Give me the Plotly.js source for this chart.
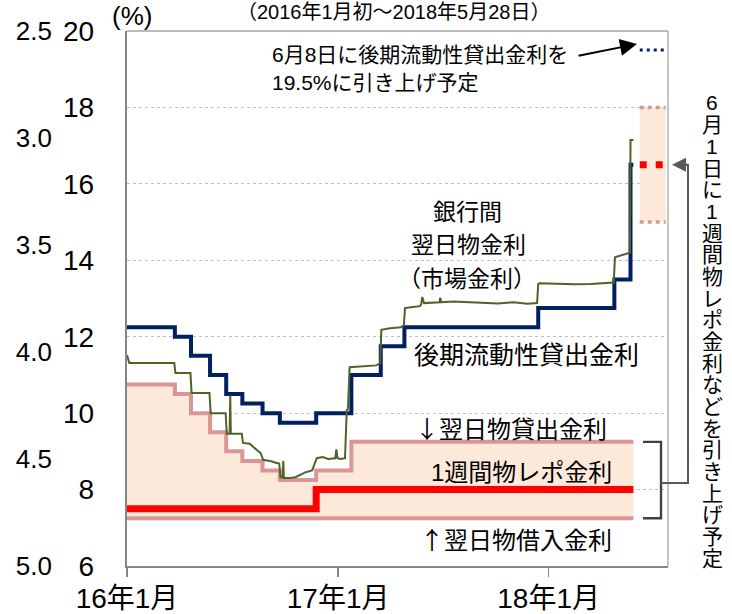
<!DOCTYPE html>
<html><head><meta charset="utf-8">
<script src="https://cdn.plot.ly/plotly-3.0.1.min.js"></script>
<style>html,body{margin:0;padding:0;background:#fff;}#chart{width:732px;height:614px;}</style>
</head><body><div id="chart"></div>
<script>
// ---- data ----
const corridorDates = ['2016-01-01','2016-03-24','2016-04-21','2016-05-24','2016-06-21','2016-07-19','2016-08-23','2016-09-22','2016-11-24','2017-01-24','2018-05-28'];
const lendingRate   = [10.75,10.5,10.0,9.5,9.0,8.75,8.5,8.25,8.5,9.25,9.25];
const borrowDates = ['2016-01-01','2018-05-28'];
const borrowRate  = [7.25,7.25];
const repoDates = ['2016-01-01','2016-11-24','2018-05-28'];
const repoRate  = [7.5,8.0,8.0];
const llwDates = ['2016-01-01','2016-03-24','2016-04-21','2016-05-24','2016-06-21','2016-07-19','2016-08-23','2016-09-22','2016-11-24','2017-01-24','2017-03-16','2017-04-26','2017-12-14','2018-04-25','2018-05-23','2018-05-28'];
const llwRate  = [12.25,12.0,11.5,11.0,10.5,10.25,10.0,9.75,10.0,11.0,11.75,12.25,12.75,13.5,16.5,16.5];
const mktDates = ['2016-01-01','2016-01-05','2016-03-23','2016-03-25','2016-04-20','2016-04-22','2016-05-23','2016-05-25','2016-06-20','2016-06-22','2016-06-27','2016-06-28','2016-06-29','2016-07-18','2016-07-20','2016-08-01','2016-08-08','2016-08-15','2016-08-20','2016-08-24','2016-09-05','2016-09-15','2016-09-21','2016-09-23','2016-09-27','2016-09-28','2016-09-29','2016-10-10','2016-10-20','2016-11-05','2016-11-17','2016-11-25','2016-12-05','2016-12-15','2016-12-27','2016-12-29','2016-12-31','2017-01-05','2017-01-13','2017-01-16','2017-01-18','2017-01-21','2017-02-10','2017-03-08','2017-03-15','2017-03-17','2017-04-01','2017-04-20','2017-04-25','2017-04-27','2017-05-10','2017-05-23','2017-05-25','2017-05-27','2017-05-30','2017-06-15','2017-06-26','2017-06-27','2017-06-29','2017-07-20','2017-08-15','2017-09-10','2017-10-05','2017-11-01','2017-11-25','2017-12-12','2017-12-14','2017-12-16','2018-01-15','2018-02-15','2018-03-15','2018-04-10','2018-04-24','2018-04-26','2018-05-05','2018-05-22','2018-05-23','2018-05-28'];
const mktRate  = [11.52,11.31,11.31,11.05,11.05,10.53,10.53,10.0,10.0,9.46,9.46,10.47,9.46,9.46,9.22,9.2,9.1,9.0,8.95,8.78,8.75,8.7,8.68,8.32,8.32,8.75,8.3,8.3,8.33,8.45,8.5,8.82,8.85,8.8,8.82,9.05,8.82,8.8,8.82,10.08,10.1,11.2,11.22,11.25,11.3,12.18,12.22,12.25,12.3,12.75,12.78,12.8,12.85,13.04,12.88,12.9,12.9,13.02,12.9,12.92,12.9,12.88,12.87,12.9,12.86,12.88,13.38,13.4,13.38,13.37,13.38,13.4,13.42,14.08,14.12,14.2,17.15,17.15];
const planDates   = ['2018-06-08','2018-07-23'];
const planLlw     = [19.5,19.5];
const planRepo    = [16.5,16.5];
const planLending = [18,18];
const planBorrow  = [15,15];
const xTickVals = ['2016-01-01','2017-01-01','2018-01-01'];
const xTickText = ['16年1月','17年1月','18年1月'];
const yTickVals  = [6,8,10,12,14,16,18,20];
const y2TickVals = [2.5,3.0,3.5,4.0,4.5,5.0];

// ---- styling / layout helpers ----
const FONT = '"Liberation Sans", Arial, "Noto Sans CJK JP", sans-serif';
const CJK = '"Noto Sans CJK JP", "Liberation Sans", sans-serif';
const PINK = '#d99694', PEACH = '#fde9d9', NAVY = '#002060', GREEN = '#4f6228', RED = '#ff0000';
const L = 127, R = 668, T = 31, B = 566, YMIN = 6, YMAX = 20;
const px = x => (x - L) / (R - L);
const py = y => (B - y) / (B - T);
const yv = v => (v - YMIN) / (YMAX - YMIN);

const traces = [
  {x: borrowDates, y: borrowRate, mode: 'lines', line: {color: PINK, width: 4, shape: 'hv'}},
  {x: corridorDates, y: lendingRate, mode: 'lines', fill: 'tonexty', fillcolor: PEACH, line: {color: PINK, width: 4, shape: 'hv'}},
  {x: planDates, y: planBorrow, mode: 'lines', line: {color: PINK, width: 3.5, dash: '4px,4px'}},
  {x: planDates, y: planLending, mode: 'lines', fill: 'tonexty', fillcolor: PEACH, line: {color: PINK, width: 3.5, dash: '4px,4px'}},
  {x: repoDates, y: repoRate, mode: 'lines', line: {color: RED, width: 7, shape: 'hv'}},
  {x: planDates, y: planRepo, mode: 'lines', line: {color: RED, width: 7, dash: '7px,9px'}},
  {x: llwDates, y: llwRate, mode: 'lines', line: {color: NAVY, width: 4, shape: 'hv'}},
  {x: planDates, y: planLlw, mode: 'lines', line: {color: NAVY, width: 3, dash: '3px,4px'}},
  {x: mktDates, y: mktRate, mode: 'lines', line: {color: GREEN, width: 2}},
  {x: [], y: [], yaxis: 'y2', mode: 'lines', hoverinfo: 'skip'}
].map(t => Object.assign({showlegend: false, hoverinfo: 'skip'}, t));

const ann = (text, x, y, size, extra, fam) => Object.assign({
  text, x: px(x), y: py(y), xref: 'paper', yref: 'paper', showarrow: false,
  xanchor: 'center', yanchor: 'middle', font: {family: fam || FONT, size, color: '#000'}
}, extra || {});

const annotations = [
  ann('（2016年1月初〜2018年5月28日）', 393, 12, 20),
  ann('(%)', 132, 16, 26),
  ann('6月8日に後期流動性貸出金利を', 270, 55, 21, {xanchor: 'left'}),
  ann('19.5%に引き上げ予定', 270, 82, 21, {xanchor: 'left'}),
  ann('銀行間', 467, 212, 23),
  ann('翌日物金利', 468, 245, 23),
  ann('（市場金利）', 467, 279, 23),
  ann('後期流動性貸出金利', 412, 355, 25, {xanchor: 'left'}),
  ann('↓翌日物貸出金利', 609, 427, 24, {xanchor: 'right'}, CJK),
  ann('1週間物レポ金利', 614, 472, 24, {xanchor: 'right'}),
  ann('↑翌日物借入金利', 614, 538, 24, {xanchor: 'right'}, CJK),
  {text: '', x: px(637), y: py(44), xref: 'paper', yref: 'paper', showarrow: true,
   ax: -60, ay: 12, arrowhead: 2, arrowsize: 1.7, arrowwidth: 2, arrowcolor: '#000', standoff: 0},
  {text: '', x: px(672), y: yv(16.5), xref: 'paper', yref: 'paper', showarrow: true,
   ax: 17, ay: 0, arrowhead: 2, arrowsize: 1.4, arrowwidth: 2, arrowcolor: '#595959', standoff: 0}
];
const noteVertical = '6月1日に1週間物レポ金利などを引き上げ予定';
Array.from(noteVertical).forEach((ch, i) => annotations.push(ann(ch, 712, 103 + i * 21.67, 21)));

const shapes = [
  {type: 'line', xref: 'paper', yref: 'paper', x0: 0, x1: 1, y0: 1, y1: 1, line: {color: '#a6a6a6', width: 1.3}},
  {type: 'line', xref: 'paper', yref: 'paper', x0: 1, x1: 1, y0: 0, y1: 1, line: {color: '#a6a6a6', width: 1.3}},
  {type: 'path', xref: 'paper', yref: 'paper', line: {color: '#404040', width: 2.3},
   path: `M ${px(643)},${yv(9.25)} H ${px(661)} V ${yv(7.25)} H ${px(643)}`},
  {type: 'path', xref: 'paper', yref: 'paper', line: {color: '#595959', width: 2},
   path: `M ${px(661)},${py(483)} H ${px(688)} V ${yv(16.5)} H ${px(676)}`}
];

const layout = {
  width: 732, height: 614,
  margin: {l: L, r: 732 - R, t: T, b: 614 - B, pad: 0},
  paper_bgcolor: '#fff', plot_bgcolor: '#fff',
  showlegend: false,
  font: {family: FONT, color: '#000'},
  xaxis: {type: 'date', range: ['2016-01-01', '2018-07-27'], tickvals: xTickVals, ticktext: xTickText,
    ticks: 'outside', ticklen: 9, tickwidth: 1.5, tickcolor: '#868686', ticklabelstandoff: -2,
    showline: true, linecolor: '#868686', linewidth: 1.5, showgrid: false, zeroline: false,
    tickfont: {family: FONT, size: 28, color: '#000'}, fixedrange: true},
  yaxis: {range: [YMIN, YMAX], tickvals: yTickVals, ticks: '', ticklabelstandoff: 25,
    showline: true, linecolor: '#868686', linewidth: 2.2, showgrid: true, gridcolor: '#bfbfbf',
    griddash: 'dot', gridwidth: 1, zeroline: false,
    tickfont: {family: FONT, size: 28, color: '#000'}, fixedrange: true},
  yaxis2: {overlaying: 'y', anchor: 'free', position: 0, shift: -72, side: 'left',
    range: [5.0, 2.5], tickvals: y2TickVals, tickformat: '.1f', ticks: '', ticklabelstandoff: 3,
    showline: false, showgrid: false, zeroline: false, automargin: false,
    tickfont: {family: FONT, size: 26, color: '#000'}, fixedrange: true},
  annotations, shapes
};

Plotly.newPlot('chart', traces, layout, {displayModeBar: false, staticPlot: true});
</script>
</body></html>
